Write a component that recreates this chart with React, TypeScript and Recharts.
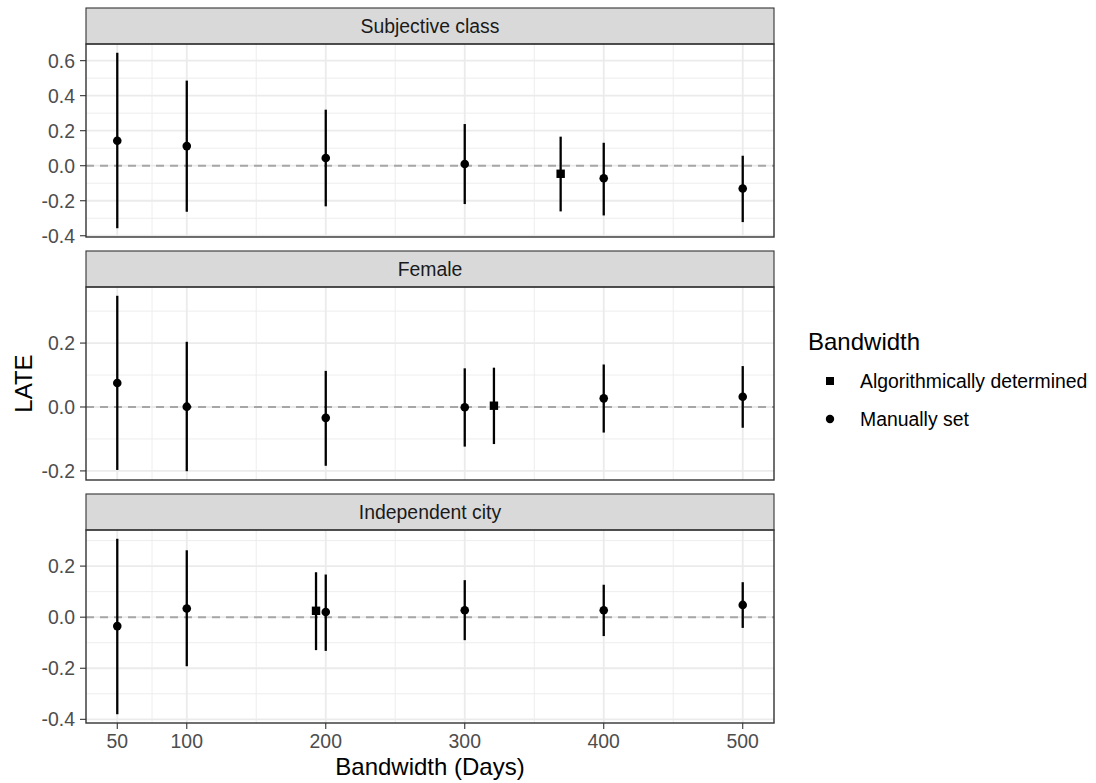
import React from 'react';
import {
  ScatterChart,
  Scatter,
  XAxis,
  YAxis,
  CartesianGrid,
  ReferenceLine,
  ErrorBar,
} from 'recharts';

// bandwidths (days) that were set by hand
const manualBandwidths = [50, 100, 200, 300, 400, 500];

// Subjective class
const classEst = [0.143, 0.112, 0.044, 0.01, -0.072, -0.13];
const classLo = [-0.357, -0.263, -0.232, -0.219, -0.284, -0.322];
const classHi = [0.645, 0.486, 0.32, 0.238, 0.131, 0.057];
const classAlgoBw = [369];
const classAlgoEst = [-0.046];
const classAlgoLo = [-0.261];
const classAlgoHi = [0.166];

// Female
const femaleEst = [0.075, 0.001, -0.034, -0.001, 0.027, 0.032];
const femaleLo = [-0.197, -0.201, -0.184, -0.124, -0.08, -0.065];
const femaleHi = [0.348, 0.204, 0.113, 0.121, 0.133, 0.128];
const femaleAlgoBw = [321];
const femaleAlgoEst = [0.004];
const femaleAlgoLo = [-0.116];
const femaleAlgoHi = [0.123];

// Independent city
const cityEst = [-0.035, 0.034, 0.02, 0.027, 0.027, 0.048];
const cityLo = [-0.38, -0.192, -0.132, -0.09, -0.074, -0.042];
const cityHi = [0.307, 0.262, 0.167, 0.145, 0.127, 0.137];
const cityAlgoBw = [193];
const cityAlgoEst = [0.025];
const cityAlgoLo = [-0.129];
const cityAlgoHi = [0.176];

const panelTitles = ['Subjective class', 'Female', 'Independent city'];

const xTicks = [50, 100, 200, 300, 400, 500];
const xMinor = [75, 150, 250, 350, 450];

const classTicks = [-0.4, -0.2, 0, 0.2, 0.4, 0.6];
const classMinor = [-0.3, -0.1, 0.1, 0.3, 0.5];
const femaleTicks = [-0.2, 0, 0.2];
const femaleMinor = [-0.1, 0.1, 0.3];
const cityTicks = [-0.4, -0.2, 0, 0.2];
const cityMinor = [-0.3, -0.1, 0.1, 0.3];

const legendLabels = ['Algorithmically determined', 'Manually set'];

const FONT = '"Liberation Sans", Arial, Helvetica, sans-serif';
const PLOT_LEFT = 86;
const PLOT_RIGHT = 774;
const CHART_W = 780;
const PANEL_TOPS = [44, 287, 530];
const PANEL_H = 193;
const STRIP_H = 36;
const PAD = 14; // room so edge tick labels are not clipped

type Pt = { x: number; y: number; err: [number, number]; lo: number; hi: number };

const toPoints = (bw: number[], est: number[], lo: number[], hi: number[]): Pt[] =>
  bw.map((x, i) => ({ x, y: est[i], lo: lo[i], hi: hi[i], err: [est[i] - lo[i], hi[i] - est[i]] }));

const panels = [
  {
    manual: toPoints(manualBandwidths, classEst, classLo, classHi),
    algo: toPoints(classAlgoBw, classAlgoEst, classAlgoLo, classAlgoHi),
    ticks: classTicks,
    minor: classMinor,
  },
  {
    manual: toPoints(manualBandwidths, femaleEst, femaleLo, femaleHi),
    algo: toPoints(femaleAlgoBw, femaleAlgoEst, femaleAlgoLo, femaleAlgoHi),
    ticks: femaleTicks,
    minor: femaleMinor,
  },
  {
    manual: toPoints(manualBandwidths, cityEst, cityLo, cityHi),
    algo: toPoints(cityAlgoBw, cityAlgoEst, cityAlgoLo, cityAlgoHi),
    ticks: cityTicks,
    minor: cityMinor,
  },
];

// ggplot style 5% expansion
const expand = (lo: number, hi: number): [number, number] => {
  const pad = (hi - lo) * 0.05;
  return [lo - pad, hi + pad];
};

const allX = panels.flatMap((p) => [...p.manual, ...p.algo].map((d) => d.x));
const xDomain = expand(Math.min(...allX), Math.max(...allX));

const Dot = (props: any) => <circle cx={props.cx} cy={props.cy} r={4.3} fill="#000" />;
const Sq = (props: any) => (
  <rect x={props.cx - 4.2} y={props.cy - 4.2} width={8.4} height={8.4} fill="#000" />
);

const tickStyle = { fontSize: 19.4, fill: '#4D4D4D', fontFamily: FONT };

function Panel({ idx }: { idx: number }) {
  const p = panels[idx];
  const all = [...p.manual, ...p.algo];
  const yDomain = expand(Math.min(...all.map((d) => d.lo)), Math.max(...all.map((d) => d.hi)));
  const showX = idx === panels.length - 1;
  const xAxisH = showX ? 32 : 0;
  const height = PAD + PANEL_H + xAxisH + PAD;

  return (
    <div style={{ position: 'absolute', left: 0, top: PANEL_TOPS[idx] - PAD, width: CHART_W, height }}>
      <ScatterChart
        width={CHART_W}
        height={height}
        margin={{ top: PAD, right: CHART_W - PLOT_RIGHT, bottom: PAD, left: 0 }}
      >
        <CartesianGrid
          horizontalValues={p.minor}
          verticalValues={xMinor}
          stroke="#EBEBEB"
          strokeWidth={0.9}
        />
        <CartesianGrid
          horizontalValues={p.ticks}
          verticalValues={xTicks}
          stroke="#EBEBEB"
          strokeWidth={1.8}
        />
        <XAxis
          type="number"
          dataKey="x"
          domain={xDomain}
          ticks={xTicks}
          interval={0}
          allowDataOverflow
          hide={!showX}
          height={32}
          axisLine={false}
          tickSize={6}
          tickMargin={5}
          tickLine={{ stroke: '#333333', strokeWidth: 1.1 }}
          tick={tickStyle}
        />
        <YAxis
          type="number"
          dataKey="y"
          domain={yDomain}
          ticks={p.ticks}
          interval={0}
          allowDataOverflow
          width={PLOT_LEFT}
          axisLine={false}
          tickSize={6}
          tickMargin={5}
          tickLine={{ stroke: '#333333', strokeWidth: 1.1 }}
          tick={tickStyle}
          tickFormatter={(v: number) => v.toFixed(1)}
        />
        <ReferenceLine y={0} stroke="#A6A6A6" strokeWidth={2.1} strokeDasharray="8 6" />
        <Scatter data={p.manual} shape={Dot} isAnimationActive={false}>
          <ErrorBar dataKey="err" direction="y" width={0} stroke="#000" strokeWidth={2.3} isAnimationActive={false} />
        </Scatter>
        <Scatter data={p.algo} shape={Sq} isAnimationActive={false}>
          <ErrorBar dataKey="err" direction="y" width={0} stroke="#000" strokeWidth={2.3} isAnimationActive={false} />
        </Scatter>
      </ScatterChart>
    </div>
  );
}

export default function App() {
  const plotW = PLOT_RIGHT - PLOT_LEFT;
  const midX = (PLOT_LEFT + PLOT_RIGHT) / 2;
  const midY = (PANEL_TOPS[0] + PANEL_TOPS[2] + PANEL_H) / 2;

  return (
    <div style={{ position: 'absolute', left: 0, top: 0, width: 1096, height: 783, background: '#fff', fontFamily: FONT }}>
      {panels.map((_, i) => (
        <Panel key={i} idx={i} />
      ))}
      <svg width={1096} height={783} style={{ position: 'absolute', left: 0, top: 0, pointerEvents: 'none' }}>
        {PANEL_TOPS.map((top, i) => (
          <g key={i}>
            <rect x={PLOT_LEFT} y={top - STRIP_H} width={plotW} height={STRIP_H} fill="#D9D9D9" stroke="#333333" strokeWidth={1.1} />
            <text x={midX} y={top - STRIP_H / 2} textAnchor="middle" dominantBaseline="central" fontSize={19.4} fill="#1A1A1A" fontFamily={FONT}>
              {panelTitles[i]}
            </text>
            <rect x={PLOT_LEFT} y={top} width={plotW} height={PANEL_H} fill="none" stroke="#333333" strokeWidth={1.4} />
          </g>
        ))}
        <text
          transform={`translate(23, ${midY}) rotate(-90)`}
          textAnchor="middle"
          dominantBaseline="central"
          fontSize={24}
          fill="#000"
          fontFamily={FONT}
        >
          LATE
        </text>
        <text x={midX} y={766} textAnchor="middle" dominantBaseline="central" fontSize={24} fill="#000" fontFamily={FONT}>
          Bandwidth (Days)
        </text>
        <text x={808} y={341} dominantBaseline="central" fontSize={24} fill="#000" fontFamily={FONT}>
          Bandwidth
        </text>
        <rect x={826} y={377} width={8} height={8} fill="#000" />
        <circle cx={830} cy={419} r={4.2} fill="#000" />
        <text x={860} y={381} dominantBaseline="central" fontSize={19.4} fill="#000" fontFamily={FONT}>
          {legendLabels[0]}
        </text>
        <text x={860} y={419} dominantBaseline="central" fontSize={19.4} fill="#000" fontFamily={FONT}>
          {legendLabels[1]}
        </text>
      </svg>
    </div>
  );
}
